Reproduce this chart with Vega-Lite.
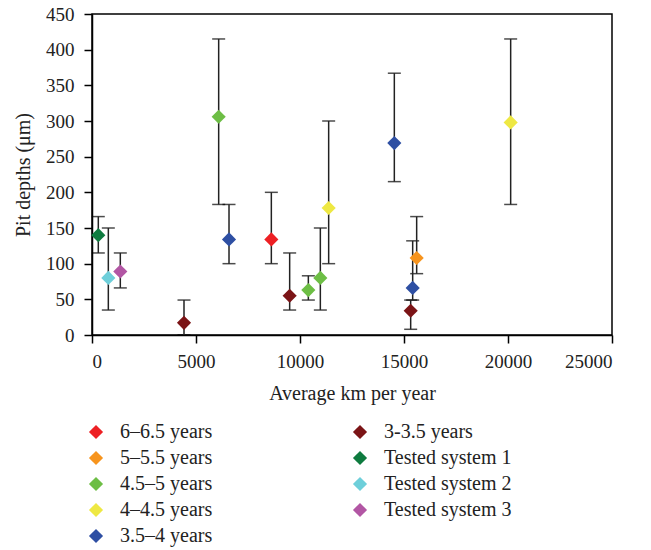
{
  "$schema": "https://vega.github.io/schema/vega-lite/v6.json",
  "width": 520,
  "height": 321,
  "autosize": "none",
  "padding": {"left": 92, "top": 14, "right": 39, "bottom": 215},
  "background": "white",
  "config": {
    "font": "Liberation Serif",
    "view": {"stroke": "black", "strokeWidth": 1.5},
    "axis": {
      "domainColor": "black", "domainWidth": 1.5, "tickColor": "black", "tickWidth": 1.5, "tickSize": 8,
      "labelColor": "#222", "titleColor": "#222", "labelFont": "Liberation Serif", "titleFont": "Liberation Serif",
      "labelFontSize": 19, "titleFontSize": 20, "titleFontWeight": "normal", "grid": false, "labelOverlap": false
    },
    "legend": {"labelFont": "Liberation Serif", "labelFontSize": 20, "labelColor": "#222"}
  },
  "data": {
    "values": [
      {"group": "Tested system 1", "km": 303, "depth": 140, "lo": 115, "hi": 166},
      {"group": "Tested system 2", "km": 785, "depth": 80, "lo": 35, "hi": 150},
      {"group": "Tested system 3", "km": 1361, "depth": 89, "lo": 66, "hi": 115},
      {"group": "3-3.5 years", "km": 4423, "depth": 17, "lo": 0, "hi": 49},
      {"group": "4.5–5 years", "km": 6090, "depth": 306, "lo": 183, "hi": 415},
      {"group": "3.5–4 years", "km": 6587, "depth": 134, "lo": 100, "hi": 183},
      {"group": "6–6.5 years", "km": 8622, "depth": 134, "lo": 100, "hi": 200},
      {"group": "3-3.5 years", "km": 9503, "depth": 55, "lo": 35, "hi": 115},
      {"group": "4.5–5 years", "km": 10401, "depth": 63, "lo": 49, "hi": 83},
      {"group": "4.5–5 years", "km": 10978, "depth": 80, "lo": 35, "hi": 150},
      {"group": "4–4.5 years", "km": 11378, "depth": 178, "lo": 100, "hi": 300},
      {"group": "3.5–4 years", "km": 14535, "depth": 269, "lo": 215, "hi": 367},
      {"group": "4–4.5 years", "km": 20128, "depth": 298, "lo": 183, "hi": 415},
      {"group": "5–5.5 years", "km": 15609, "depth": 108, "lo": 86, "hi": 166},
      {"group": "3.5–4 years", "km": 15417, "depth": 66, "lo": 49, "hi": 132},
      {"group": "3-3.5 years", "km": 15321, "depth": 34, "lo": 8, "hi": 49}
    ]
  },
  "encoding": {
    "x": {
      "field": "km", "type": "quantitative",
      "scale": {"domain": [0, 25000], "nice": false},
      "axis": {"values": [0, 5000, 10000, 15000, 20000, 25000], "format": "d", "title": "Average km per year", "labelPadding": 9, "titlePadding": 12}
    }
  },
  "layer": [
    {
      "mark": {"type": "errorbar", "ticks": {"size": 13, "color": "black", "thickness": 1.5}, "rule": {"color": "#222", "strokeWidth": 1.5}},
      "encoding": {
        "y": {"field": "lo", "type": "quantitative", "scale": {"domain": [0, 450], "nice": false},
          "axis": {"values": [0, 50, 100, 150, 200, 250, 300, 350, 400, 450], "title": "Pit depths (μm)", "labelPadding": 10, "titlePadding": 12}},
        "y2": {"field": "hi"}
      }
    },
    {
      "mark": {"type": "point", "shape": "diamond", "filled": true, "size": 200, "opacity": 1},
      "encoding": {
        "y": {"field": "depth", "type": "quantitative", "scale": {"domain": [0, 450], "nice": false},
          "axis": {"values": [0, 50, 100, 150, 200, 250, 300, 350, 400, 450], "title": "Pit depths (μm)", "labelPadding": 10, "titlePadding": 12}},
        "color": {
          "field": "group", "type": "nominal",
          "scale": {
            "domain": ["6–6.5 years", "3-3.5 years", "5–5.5 years", "Tested system 1", "4.5–5 years", "Tested system 2", "4–4.5 years", "Tested system 3", "3.5–4 years"],
            "range": ["#ED2024", "#7B1416", "#F7941D", "#0E7B3F", "#6DBE45", "#6ECFDA", "#EEE843", "#B256A4", "#2E4FA3"]
          },
          "legend": {
            "title": null, "orient": "none", "legendX": -6, "legendY": 408, "columns": 2, "direction": "horizontal",
            "symbolType": "diamond", "symbolSize": 200, "symbolOpacity": 1, "symbolStrokeWidth": 0,
            "labelOffset": 14, "rowPadding": 6, "columnPadding": 137, "labelLimit": 300
          }
        }
      }
    }
  ]
}
